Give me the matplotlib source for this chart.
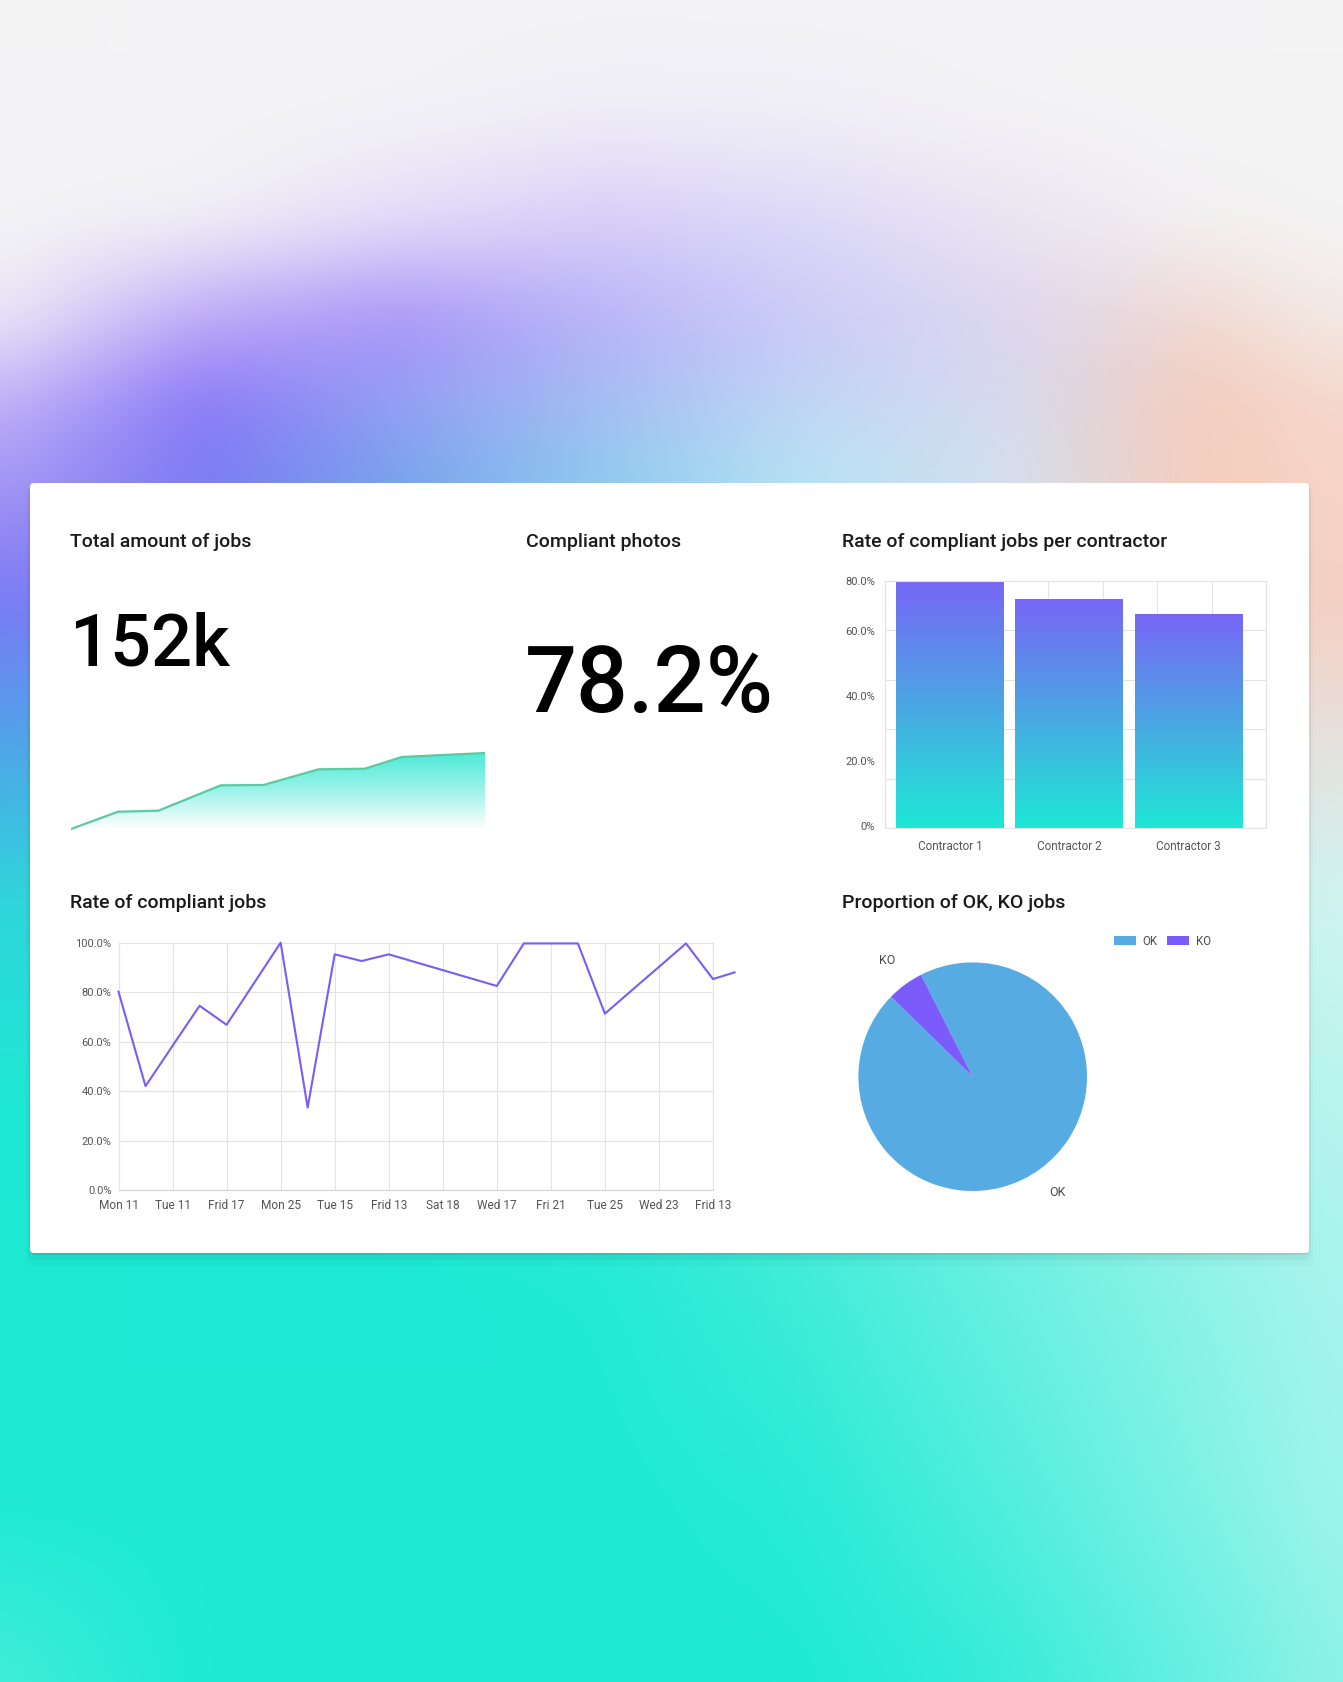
import numpy as np
import matplotlib
matplotlib.use("Agg")
import matplotlib.pyplot as plt
from matplotlib.patches import FancyBboxPatch, Polygon
from matplotlib.colors import to_rgb, LinearSegmentedColormap

# ---------------- data ----------------
kpi_jobs_title = "Total amount of jobs"
kpi_jobs_value = "152k"
kpi_photos_title = "Compliant photos"
kpi_photos_value = "78.2%"

jobs_period = [0, 11.4, 21.1, 36.2, 46.5, 59.8, 71.0, 79.9, 100]
jobs_cumulative = [0, 17.3, 18.3, 43.7, 44.0, 59.7, 60.3, 72.0, 76.0]

contractors = ["Contractor 1", "Contractor 2", "Contractor 3"]
contractor_rate = [80.0, 74.2, 69.3]
bar_tick_values = [80, 63.8, 42.8, 21.7, 0.6]
bar_tick_labels = ["80.0%", "60.0%", "40.0%", "20.0%", "0%"]

day_labels = ["Mon 11", "Tue 11", "Frid 17", "Mon 25", "Tue 15", "Frid 13",
              "Sat 18", "Wed 17", "Fri 21", "Tue 25", "Wed 23", "Frid 13"]
rate_x = [0, 0.5, 1, 1.5, 2, 2.5, 3, 3.5, 4, 4.5, 5, 5.5, 6, 6.5, 7, 7.5,
          8, 8.5, 9, 9.5, 10, 10.5, 11, 11.4]
rate_y = [80.2, 42.0, 58.3, 74.5, 66.8, 83.4, 100.0, 33.3, 95.3, 92.6, 95.3,
          92.1, 88.9, 85.7, 82.5, 99.7, 99.7, 99.7, 71.3, 80.8, 90.2, 99.7,
          85.3, 88.0]
line_ticks = [0, 20, 40, 60, 80, 100]
line_tick_labels = ["0.0%", "20.0%", "40.0%", "60.0%", "80.0%", "100.0%"]

pie_labels = ["OK", "KO"]
pie_values = [94.8, 5.2]

# ---------------- figure ----------------
W, H = 1343, 1682
DPI = 100
FONT = "Roboto"
plt.rcParams["font.family"] = [FONT, "DejaVu Sans"]

fig = plt.figure(figsize=(W / DPI, H / DPI), dpi=DPI)


def px_rect(l, t, r, b):
    return [l / W, 1 - b / H, (r - l) / W, (b - t) / H]


# ---------------- background ----------------
gx = np.array([0, 200, 400, 600, 800, 1000, 1200, 1343], float)
gy = np.array([0, 120, 220, 320, 400, 480, 600, 750, 900, 1100, 1300, 1500, 1682], float)
grid_hex = [
    "F4F4F5 F4F4F5 F4F4F5 F4F4F5 F4F4F5 F4F4F5 F4F4F5 F4F4F5",
    "F4F4F5 F4F4F5 F3F2F6 EFEDF7 F0EEF7 F3F2F5 F4F4F5 F4F4F5",
    "F4F4F5 F2F1F6 E4DDF9 D8CEF9 DDD8F8 EAE4F2 F3F1F2 F4F4F5",
    "ECE8F7 BCA8F8 A892F8 B8B2F8 CBCAF8 DCD6F1 F1D8D0 F3EAE6",
    "C0B2F8 8C78F8 95A0F4 A5BDF2 C0D5F5 D6DBF0 F4CDBE F5D8CC",
    "A898F5 7B7BF3 76A4EC 8DCBEE B6E3F4 D3E0F0 F6CCBB F7D5C8",
    "7B78F5 7C80F4 80A0F0 90C8EE B0E0F0 D0DEE8 F0D2C8 F7CFC2",
    "4DA6E8 50B0E8 60C8E8 80D8EC A0E4EE C0E6EA E0E2DE E6E2DE",
    "2FD6DA 30D8DA 40DEDC 60E4E0 80EAE6 A0EEEA C0F2EE D2F5F2",
    "1EE8D4 1EE8D4 22E9D5 34EBD8 55EEDE 80F1E5 A5F4EB BAF5EE",
    "1EEAD4 1EEAD4 1EEAD4 22EAD5 3EECD9 66F0E1 8EF3E8 A8F5EE",
    "1EEAD4 1EEAD4 1EEAD4 1EEAD4 28EBD6 50EEDD 7EF2E6 A0F5EC",
    "44EDDA 1EEAD4 1EEAD4 1EEAD4 1EEAD4 36ECD9 66F0E2 90F2E8",
]
G = np.array([[to_rgb("#" + h) for h in row.split()] for row in grid_hex])
xs = np.arange(W) + 0.5
ys = np.arange(H) + 0.5
rows = np.stack([np.stack([np.interp(xs, gx, G[i, :, c]) for c in range(3)], -1)
                 for i in range(len(gy))])
iy = np.clip(np.searchsorted(gy, ys) - 1, 0, len(gy) - 2)
t = np.clip((ys - gy[iy]) / (gy[iy + 1] - gy[iy]), 0, 1)[:, None, None]
bg = rows[iy] * (1 - t) + rows[iy + 1] * t


def box_blur(a, r, axis):
    pad = [(0, 0)] * a.ndim
    pad[axis] = (r + 1, r)
    p = np.pad(a, pad, mode="edge")
    c = np.cumsum(p, axis=axis)
    n = a.shape[axis]
    hi = np.take(c, np.arange(2 * r + 1, 2 * r + 1 + n), axis=axis)
    lo = np.take(c, np.arange(0, n), axis=axis)
    return (hi - lo) / (2 * r + 1)


for _ in range(2):
    bg = box_blur(bg, 35, 0)
    bg = box_blur(bg, 35, 1)
bg = np.clip(bg, 0, 1)

ax_bg = fig.add_axes([0, 0, 1, 1], zorder=0)
ax_bg.imshow(bg, extent=(0, W, H, 0), aspect="auto", interpolation="bilinear")
ax_bg.set_xlim(0, W)
ax_bg.set_ylim(H, 0)
ax_bg.axis("off")

# card + shadow
card_l, card_t, card_r, card_b = 30, 483, 1309, 1253
for dy, grow, a in [(2, 0, 0.08), (5, 2, 0.04), (9, 4, 0.02)]:
    ax_bg.add_patch(FancyBboxPatch((card_l - grow, card_t + dy - grow),
                                   card_r - card_l + 2 * grow, card_b - card_t + 2 * grow,
                                   boxstyle="round,pad=0,rounding_size=6",
                                   facecolor="black", edgecolor="none", alpha=a))
ax_bg.add_patch(FancyBboxPatch((card_l, card_t), card_r - card_l, card_b - card_t,
                               boxstyle="round,pad=0,rounding_size=4",
                               facecolor="white", edgecolor="none"))

TITLE_C = "#1a1a1a"
TICK_C = "#555555"
GRID_C = "#e3e3e3"
TW = "medium"
TS = 14

ax_bg.text(70, 546.7, kpi_jobs_title, fontsize=TS, fontweight=TW, color=TITLE_C,
           va="baseline", ha="left")
ax_bg.text(526, 546.7, kpi_photos_title, fontsize=TS, fontweight=TW, color=TITLE_C,
           va="baseline", ha="left")
ax_bg.text(842, 546.7, "Rate of compliant jobs per contractor", fontsize=TS, fontweight=TW,
           color=TITLE_C, va="baseline", ha="left")
ax_bg.text(70, 908, "Rate of compliant jobs", fontsize=TS, fontweight=TW, color=TITLE_C,
           va="baseline", ha="left")
ax_bg.text(842, 908, "Proportion of OK, KO jobs", fontsize=TS, fontweight=TW, color=TITLE_C,
           va="baseline", ha="left")

ax_bg.text(69, 665, kpi_jobs_value, fontsize=52, fontweight=TW, color="black",
           va="baseline", ha="left")
ax_bg.text(525, 711.5, kpi_photos_value, fontsize=66, fontweight=TW, color="black",
           va="baseline", ha="left")

# ---------------- sparkline ----------------
ax_sp = fig.add_axes(px_rect(71, 745, 485, 831), zorder=2)
ax_sp.axis("off")
verts = [(jobs_period[0], 0)] + list(zip(jobs_period, jobs_cumulative)) + [(jobs_period[-1], 0)]
poly = Polygon(verts, closed=True, facecolor="none", edgecolor="none")
ax_sp.add_patch(poly)
sp_cmap = LinearSegmentedColormap.from_list("sp", ["#ffffff", "#9ef3e9", "#4eead7"])
grad = np.linspace(0, 1, 256)[:, None]
im = ax_sp.imshow(grad, extent=(jobs_period[0], jobs_period[-1], 0, max(jobs_cumulative)),
                  origin="lower", aspect="auto", cmap=sp_cmap, zorder=1)
im.set_clip_path(poly)
ax_sp.plot(jobs_period, jobs_cumulative, color="#5ec9a0", lw=1.6, zorder=3,
           solid_joinstyle="round")
ax_sp.set_xlim(min(jobs_period), max(jobs_period))
ax_sp.set_ylim(-2, 84)

# ---------------- bar chart ----------------
ax_bar = fig.add_axes(px_rect(885, 581, 1266, 828), zorder=2)
xpos = np.arange(len(contractors))
bars = ax_bar.bar(xpos, contractor_rate, width=0.905, color="none", edgecolor="none", zorder=2)
bar_cmap = LinearSegmentedColormap.from_list("bar", ["#1ee8d6", "#4ba6e4", "#7766f6"])
for p in bars.patches:
    x0, w, h = p.get_x(), p.get_width(), p.get_height()
    bim = ax_bar.imshow(grad, extent=(x0, x0 + w, 0, h), origin="lower", aspect="auto",
                        cmap=bar_cmap, zorder=2)
    bim.set_clip_path(p)
xl = (-0.545, 2.65)
ax_bar.set_xlim(*xl)
ax_bar.set_ylim(0, 80)
ax_bar.set_xticks(xpos, contractors)
ax_bar.set_xticks(np.linspace(xl[0], xl[1], 8), minor=True)
ax_bar.set_yticks(bar_tick_values, bar_tick_labels)
ax_bar.set_yticks(np.linspace(0, 80, 6), minor=True)
ax_bar.grid(which="minor", color=GRID_C, lw=0.8, zorder=0)
ax_bar.grid(which="major", visible=False)
ax_bar.set_axisbelow(True)
ax_bar.tick_params(which="both", length=0)
ax_bar.tick_params(axis="y", pad=7, labelsize=8.0, labelcolor=TICK_C)
ax_bar.tick_params(axis="x", pad=9, labelsize=8.5, labelcolor=TICK_C)
for s in ax_bar.spines.values():
    s.set_color(GRID_C)
    s.set_linewidth(0.8)

# ---------------- line chart ----------------
ax_ln = fig.add_axes(px_rect(118.5, 942.7, 713, 1190), zorder=2)
ax_ln.plot(rate_x, rate_y, color="#7a5cf6", lw=1.5, clip_on=False, zorder=3)
ax_ln.set_xlim(0, len(day_labels) - 1)
ax_ln.set_ylim(0, 100)
ax_ln.set_xticks(range(len(day_labels)), day_labels)
ax_ln.set_yticks(line_ticks, line_tick_labels)
ax_ln.grid(True, color=GRID_C, lw=0.8, zorder=0)
ax_ln.set_axisbelow(True)
ax_ln.tick_params(length=0)
ax_ln.tick_params(axis="y", pad=5, labelsize=8.0, labelcolor=TICK_C)
ax_ln.tick_params(axis="x", pad=6.5, labelsize=8.6, labelcolor=TICK_C)
for s in ax_ln.spines.values():
    s.set_color(GRID_C)
    s.set_linewidth(0.8)
ax_ln.spines["bottom"].set_color("#d5d5d5")

# ---------------- pie ----------------
cx, cy, r = 972.7, 1076.7, 114.3
ax_pie = fig.add_axes(px_rect(cx - r, cy - r, cx + r, cy + r), zorder=2)
wedges, texts = ax_pie.pie(pie_values, labels=pie_labels, colors=["#56abe3", "#7b5cfa"],
                           startangle=116.9, counterclock=False, labeldistance=1.26,
                           radius=1, textprops=dict(fontsize=9, color="#4a4a4a"),
                           wedgeprops=dict(linewidth=0))
for tx in texts:
    tx.set_ha("center")
    tx.set_va("center")
ax_pie.set_xlim(-1, 1)
ax_pie.set_ylim(-1, 1)
ax_pie.set_aspect("equal")
ax_pie.legend(wedges, pie_labels, loc="center left", bbox_to_anchor=(1114 / W, 1 - 941 / H),
              bbox_transform=fig.transFigure, ncol=2, frameon=False, fontsize=8.3,
              handlelength=1.9, handleheight=0.85, handletextpad=0.6, columnspacing=0.8,
              borderaxespad=0, borderpad=0, labelcolor="#4a4a4a")

fig.savefig("out.png", dpi=DPI)
